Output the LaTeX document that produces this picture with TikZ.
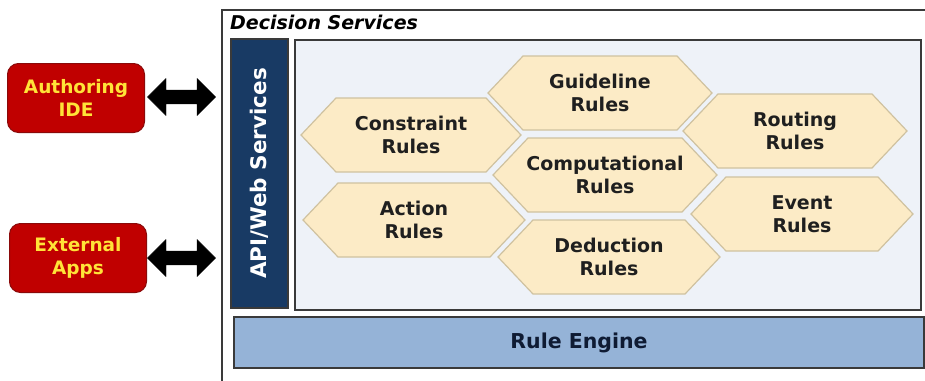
\documentclass[tikz,border=0pt]{standalone}
\usepackage{fontspec}
\setmainfont{DejaVu Sans}
\usetikzlibrary{arrows.meta,shapes.arrows}
\definecolor{idered}{HTML}{C00000}
\definecolor{ideredline}{HTML}{8A0A0A}
\definecolor{ideyellow}{HTML}{FFE338}
\definecolor{navybar}{HTML}{183A64}
\definecolor{panelfill}{HTML}{EEF2F8}
\definecolor{hexfill}{HTML}{FCEBC6}
\definecolor{hexline}{HTML}{CFC2A0}
\definecolor{enginefill}{HTML}{95B3D7}
\definecolor{enginetext}{HTML}{0F1B33}
\definecolor{frameline}{HTML}{3A3A3A}
\tikzset{
  x=1pt, y=-1pt,
  clientbox/.style={draw=ideredline, line width=1pt, fill=idered, rounded corners=11pt,
    text=ideyellow, font=\bfseries\fontsize{18.5}{22.5}\selectfont, align=center,
    minimum width=137pt, minimum height=69pt, inner sep=0pt},
  hexbox/.style={draw=hexline, line width=1.2pt, fill=hexfill, line join=miter},
  hextext/.style={font=\bfseries\fontsize{19}{23}\selectfont, text=black!88, align=center, inner sep=0pt},
  linkarrow/.style={double arrow, fill=black, draw=black, minimum height=68pt,
    minimum width=37pt, double arrow head extend=11.5pt, double arrow head indent=0pt,
    inner xsep=0pt, inner ysep=6.5pt, shape border rotate=0},
}
% hexagonal rule block: name, centre x, centre y, half width, label
\newcommand\rulehex[5]{%
  \draw[hexbox] (#2-#4,#3) -- (#2-#4+35,#3-37) -- (#2+#4-35,#3-37)
    -- (#2+#4,#3) -- (#2+#4-35,#3+37) -- (#2-#4+35,#3+37) -- cycle;
  \node[hextext] (#1) at (#2,#3) {#5};}
\begin{document}
\begin{tikzpicture}
\useasboundingbox (0,0) rectangle (925,380);
\clip (0,0) rectangle (925,380);

% Decision Services frame
\draw[frameline, line width=1.6pt] (222,400) -- (222,10) -- (940,10);
\node[anchor=west, font=\bfseries\itshape\fontsize{19}{22}\selectfont, inner sep=0pt]
  (title) at (230,22) {Decision Services};

% API / Web Services bar
\node[draw=frameline, line width=1.2pt, fill=navybar, minimum width=57pt, minimum height=269pt,
  inner sep=0pt] (api) at (259.5,173.5) {};
\node[rotate=90, text=white, font=\bfseries\fontsize{21.5}{24}\selectfont] (apitext)
  at (api.center) {API/Web Services};

% rule panel
\node[draw=frameline, line width=1.4pt, fill=panelfill, minimum width=626pt, minimum height=270pt,
  inner sep=0pt] (panel) at (608,175) {};

% rule engine
\node[draw=frameline, line width=1.4pt, fill=enginefill, minimum width=690pt, minimum height=51pt,
  inner sep=0pt, text=enginetext, font=\bfseries\fontsize{20.5}{24}\selectfont]
  (engine) at (579,342.5) {Rule Engine};

% rule types
\rulehex{constraint}{411}{135}{110}{Constraint\\Rules}
\rulehex{guideline}{600}{93}{112}{Guideline\\Rules}
\rulehex{routing}{795}{131}{112}{Routing\\Rules}
\rulehex{computational}{605}{175}{112}{Computational\\Rules}
\rulehex{action}{414}{220}{111}{Action\\Rules}
\rulehex{event}{802}{214}{111}{Event\\Rules}
\rulehex{deduction}{609}{257}{111}{Deduction\\Rules}

% clients
\node[clientbox] (ide) at (76,98) {Authoring\\IDE};
\node[clientbox] (ext) at (78,258) {External\\Apps};

% links between clients and the service layer
\node[linkarrow] (idelink) at (181.5,97) {};
\node[linkarrow] (extlink) at (181.5,258) {};
\end{tikzpicture}
\end{document}
